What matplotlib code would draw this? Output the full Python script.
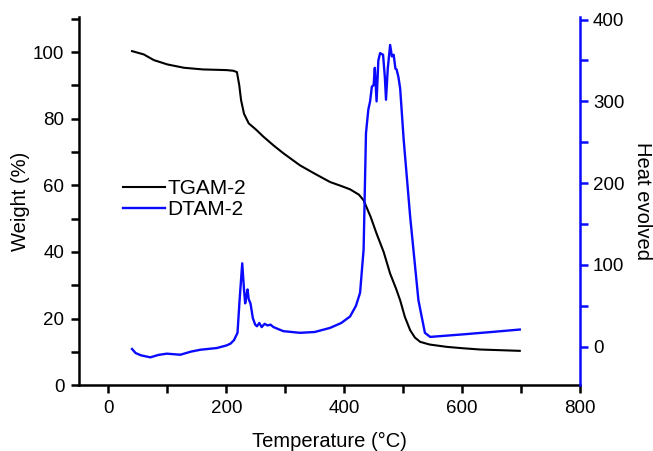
import matplotlib
matplotlib.use('Agg')
import matplotlib.pyplot as plt
from matplotlib.ticker import MultipleLocator

plt.rcParams['font.family'] = ['Liberation Sans', 'DejaVu Sans']
plt.rcParams['font.size'] = 14.5

# TGA curve (weight %)
tga_temp = [40, 60, 77, 100, 128, 160, 200, 212, 218, 222, 225, 230, 238, 250, 263,
            280, 297, 325, 350, 376, 395, 410, 425, 433, 445, 455, 467, 478, 488,
            495, 503, 512, 520, 529, 545, 574, 600, 631, 665, 698]
tga_weight = [100.3, 99.3, 97.6, 96.3, 95.3, 94.8, 94.6, 94.4, 94.0, 90.0, 85.6, 81.5,
              78.6, 76.8, 74.6, 72.0, 69.6, 66.0, 63.5, 61.0, 59.8, 58.8, 57.2, 55.5,
              50.5, 45.5, 40.0, 33.5, 29.0, 25.5, 20.5, 16.5, 14.3, 13.0, 12.2, 11.5,
              11.1, 10.7, 10.5, 10.3]

# DTA curve (heat evolved)
dta_temp = [40, 46, 55, 71, 85, 99, 122, 140, 156, 184, 200, 207, 213, 219, 222.5,
            227, 230, 232, 234, 236, 238, 241, 245, 249, 252, 256, 260, 265, 270, 275,
            280, 290, 297, 325, 350, 376, 395, 410, 420, 427, 433, 437, 441, 444, 447,
            450, 452, 455, 458, 461, 466, 469, 471, 474, 478, 481, 484, 487, 489, 492,
            495, 501, 512, 526, 537, 546, 600, 650, 698]
dta_heat = [-2.8, -7.7, -10.5, -13, -10, -8.5, -9.8, -6, -3.7, -1.6, 1.5, 3.7, 8, 17,
            57, 102, 70, 53, 62, 70, 58, 53, 35, 27, 25, 29, 24, 28, 26, 27, 24, 21,
            19, 17, 18, 23, 29, 37, 50, 66, 119, 261, 290, 300, 318, 320, 341, 300,
            350, 359, 357, 330, 302, 340, 369, 355, 357, 340, 339, 330, 316, 253, 159,
            57, 17, 12, 15, 18, 21]

fig = plt.figure(figsize=(6.53, 4.51), dpi=100)
ax = fig.add_axes([0.121, 0.146, 0.767, 0.816])
ax2 = ax.twinx()

ax.plot(tga_temp, tga_weight, color='black', lw=1.5, label='TGAM-2')
ax2.plot(dta_temp, dta_heat, color='#0a0aff', lw=1.7, label='DTAM-2')

ax.set_xlim(-50, 800)
ax.set_ylim(0, 110.5)
ax2.set_ylim(-47, 403)

ax.xaxis.set_major_locator(MultipleLocator(200))
ax.xaxis.set_minor_locator(MultipleLocator(100))
ax.yaxis.set_major_locator(MultipleLocator(20))
ax.yaxis.set_minor_locator(MultipleLocator(10))
ax2.yaxis.set_major_locator(MultipleLocator(100))
ax2.yaxis.set_minor_locator(MultipleLocator(50))

for a in (ax, ax2):
    a.spines['top'].set_visible(False)
ax.spines['right'].set_visible(False)
ax2.spines['left'].set_visible(False)
ax2.spines['bottom'].set_visible(False)
ax.spines['left'].set_linewidth(1.8)
ax.spines['bottom'].set_linewidth(1.8)
ax2.spines['right'].set_color('#0a0aff')
ax2.spines['right'].set_linewidth(1.8)

ax.tick_params(which='both', direction='out', length=5.5, width=1.8, color='black',
               pad=5, labelsize=13.5)
ax2.tick_params(which='both', direction='out', length=5.5, width=1.8, color='#0a0aff',
                labelcolor='black', pad=4, labelsize=13.5)

ax.set_xlabel('Temperature (°C)', labelpad=11)
ax.set_ylabel('Weight (%)', labelpad=2)
ax2.set_ylabel('Heat evolved', rotation=270, labelpad=20)

h1, l1 = ax.get_legend_handles_labels()
h2, l2 = ax2.get_legend_handles_labels()
ax.legend(h1 + h2, l1 + l2, loc='center left', bbox_to_anchor=(0.071, 0.505),
          frameon=False, handlelength=2.0, handletextpad=0.15, labelspacing=0.1,
          fontsize=15, borderaxespad=0)

fig.savefig('out.png', dpi=100)
